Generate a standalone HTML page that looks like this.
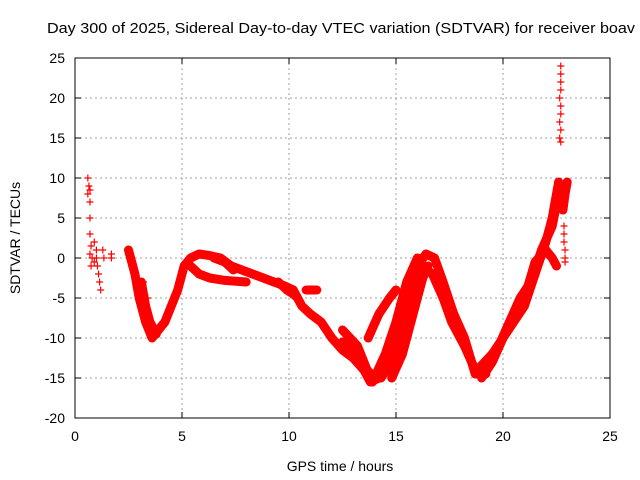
<!DOCTYPE html>
<html><head><meta charset="utf-8"><style>
body{margin:0;background:#fff}
svg{display:block;font-family:"Liberation Sans",sans-serif}
</style></head><body>
<svg id="chart" width="640" height="480">
<rect width="640" height="480" fill="#fff"/>
<text x="47" y="33" font-size="15" textLength="588" lengthAdjust="spacingAndGlyphs">Day 300 of 2025, Sidereal Day-to-day VTEC variation (SDTVAR) for receiver boav</text>
<g id="grid"></g>
<g id="axes"></g>
<g id="marks"></g>
<rect x="75" y="58" width="535" height="360" fill="none" stroke="#000" stroke-width="1"/>
<text x="340" y="471" font-size="14" text-anchor="middle">GPS time / hours</text>
<text transform="translate(20,238) rotate(-90)" font-size="14" text-anchor="middle">SDTVAR / TECUs</text>
</svg>
<script>
const xTicks=[0,5,10,15,20,25];
const yTicks=[-20,-15,-10,-5,0,5,10,15,20,25];
const bandA=[[2.5,1],[2.8,-2],[3.0,-5],[3.3,-8],[3.6,-10],[3.9,-9],[4.2,-8],[4.5,-6],[4.8,-4],[5.1,-1],[5.4,0],[5.8,0.5],[6.3,0.3],[6.8,0],[7.3,-1],[7.8,-1.5],[8.3,-2],[8.8,-2.5],[9.3,-3],[9.8,-3.5],[10.2,-4],[10.6,-6],[11,-7],[11.5,-8],[12,-10],[12.5,-11.5],[13,-12.5],[13.5,-14],[13.8,-15.5],[14.2,-15]];
const bandB=[[3.1,-3],[3.3,-6],[3.5,-8],[3.8,-9.5]];
const bandC=[[5.4,-1],[5.8,-2],[6.3,-2.5],[7,-2.8],[8,-3]];
const bandC2=[[6.5,0],[7,-0.5],[7.4,-1.5]];
const bandP=[[9.5,-3],[9.9,-4],[10.2,-4.5],[10.4,-5]];
const bandD=[[12.5,-10.5],[13.3,-13],[14,-15]];
const bandE=[[12.5,-9],[13.2,-11],[13.8,-15],[14.3,-14],[15,-10],[15.5,-5],[16,-1],[16.4,0.5],[16.8,0],[17.2,-3],[17.7,-7],[18.2,-10],[18.7,-14.5],[19.2,-14.5]];
const bandF=[[13.9,-15.5],[14.5,-12],[15,-8],[15.5,-3],[16,0]];
const bandG=[[14.3,-15],[15,-12],[15.5,-8],[16,-4],[16.5,-1]];
const bandH=[[14.8,-15],[15.3,-12],[15.9,-6],[16.3,-2]];
const bandI=[[13.7,-10],[14.2,-7],[14.7,-5],[15,-4]];
const bandJ=[[16.2,-1],[16.7,-2],[17.2,-5],[17.6,-8],[18.2,-11],[18.7,-14]];
const bandK=[[18.8,-14],[19.5,-12],[20,-10],[20.5,-8],[21,-6],[21.5,-2],[22,2],[22.3,5],[22.6,9.5]];
const bandL=[[19,-15],[19.5,-13],[20,-10],[20.5,-7],[21,-5],[21.5,-0.5],[22,1],[22.3,0],[22.5,-1]];
const bandM=[[19.2,-13],[19.8,-11],[20.3,-8],[20.8,-5],[21.3,-3],[21.8,1],[22.3,4],[22.6,8]];
const bandN=[[22.8,6],[22.9,8],[23,9.5]];
const blob=[[10.8,-4],[11.3,-4]];
const pluses=[[0.6,10],[0.65,9],[0.7,8.5],[0.6,8],[0.7,7],[0.7,5],[0.7,3],[0.75,1.5],[0.7,0.5],[0.8,0],[0.75,-1],[0.9,-0.5],[1.0,1],[1.0,0],[1.05,-1],[1.1,-2],[1.15,-3],[1.2,-4],[0.9,2],[1.3,1],[1.35,0],[1.7,0.5],[1.7,0],[3.2,-3],[3.4,-5],[3.3,-7],[22.7,24],[22.7,23],[22.7,22],[22.7,21],[22.65,20],[22.7,19],[22.7,18],[22.65,17],[22.7,16],[22.65,15],[22.7,14.5],[22.85,4],[22.85,3],[22.85,2],[22.9,1],[22.9,0],[22.9,-0.5]];
const X0=75,W=535,Y0=58,H=360,xmin=0,xmax=25,ymin=-20,ymax=25;
const px=x=>X0+(x-xmin)/(xmax-xmin)*W;
const py=y=>Y0+(ymax-y)/(ymax-ymin)*H;
const NS="http://www.w3.org/2000/svg";
function mk(tag,attrs,parent){const e=document.createElementNS(NS,tag);for(const k in attrs)e.setAttribute(k,attrs[k]);parent.appendChild(e);return e;}
const grid=document.getElementById('grid'),axes=document.getElementById('axes'),marks=document.getElementById('marks');
xTicks.forEach(t=>{
  const x=px(t);
  if(t>xmin&&t<xmax){const l=mk('line',{x1:x,x2:x,y1:Y0,y2:Y0+H,stroke:'#a0a0a0','stroke-dasharray':'2,3'},grid);
  
  }
  mk('line',{x1:x,x2:x,y1:Y0+H,y2:Y0+H-6,stroke:'#000'},axes);
  mk('line',{x1:x,x2:x,y1:Y0,y2:Y0+6,stroke:'#000'},axes);
  const tx=mk('text',{x:x,y:Y0+H+23,'font-size':14,'text-anchor':'middle'},axes);tx.textContent=t;
  
  
});
yTicks.forEach(t=>{
  const y=py(t);
  if(t>ymin&&t<ymax){const l=mk('line',{x1:X0,x2:X0+W,y1:y,y2:y,stroke:'#a0a0a0','stroke-dasharray':'2,3'},grid);
  
  }
  mk('line',{x1:X0,x2:X0+6,y1:y,y2:y,stroke:'#000'},axes);
  mk('line',{x1:X0+W,x2:X0+W-6,y1:y,y2:y,stroke:'#000'},axes);
  const tx=mk('text',{x:X0-10,y:y+5,'font-size':14,'text-anchor':'end'},axes);tx.textContent=t;
  
  
});
[bandA,bandB,bandC,bandC2,bandP,bandD,bandE,bandF,bandG,bandH,bandI,bandJ,bandK,bandL,bandM,bandN,blob].forEach(b=>{
  const p=mk('polyline',{points:b.map(d=>px(d[0])+','+py(d[1])).join(' '),fill:'none',stroke:'#f00','stroke-width':9,'stroke-linejoin':'round','stroke-linecap':'round'},marks);
  
  
});
pluses.forEach(d=>{
  const x=px(d[0]),y=py(d[1]);
  const p=mk('path',{d:`M${x-3.5},${y}h7M${x},${y-3.5}v7`,stroke:'#f00','stroke-width':1.2},marks);
  
  
});
</script>
</body></html>
